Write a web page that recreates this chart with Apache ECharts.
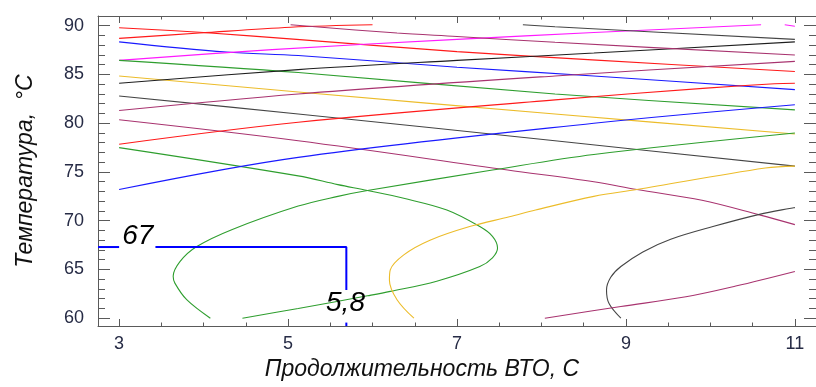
<!DOCTYPE html>
<html>
<head>
<meta charset="utf-8">
<title>Contours</title>
<script src="https://cdn.jsdelivr.net/npm/echarts@6.0.0/dist/echarts.min.js"></script>
<style>
  html, body { margin: 0; padding: 0; background: #fff; }
  #chart { width: 816px; height: 387px; }
</style>
</head>
<body>
<div id="chart"></div>
<script>
// axis ranges and ticks
const X_MIN = 2.75, X_MAX = 11.25
const Y_MIN = 59.2, Y_MAX = 91
const xMajor = [3, 5, 7, 9, 11]
const xMinor = [3, 3.5, 4, 4.5, 5, 5.5, 6, 6.5, 7, 7.5, 8, 8.5, 9, 9.5, 10, 10.5, 11]
const yMajor = [60, 65, 70, 75, 80, 85, 90]
const yMinor = [60, 61, 62, 63, 64, 65, 66, 67, 68, 69, 70, 71, 72, 73, 74, 75, 76, 77, 78, 79, 80, 81, 82, 83, 84, 85, 86, 87, 88, 89, 90]

// contour lines, [duration, temperature]
const redTopFall = [[3, 89.8], [4, 89.3], [5.1, 88.6], [7, 87.35], [8.6, 86.5], [11, 85.3]]
const redTopRise = [[3, 88.7], [3.95, 89.25], [5.03, 89.85], [6.0, 90.1]]
const blueFall = [[3, 88.35], [4.27, 87.3], [5.12, 86.95], [7, 85.75], [8.62, 84.85], [11, 83.45]]
const magentaRise = [[3, 86.45], [4.81, 87.55], [7, 88.6], [8.62, 89.3], [10.6, 90.1]]
const magentaEdge = [[10.88, 90.1], [11, 89.95]]
const greenFall = [[3, 86.45], [5.12, 85.2], [8.16, 83.0], [11, 81.37]]
const yellowFall = [[3, 84.85], [5.12, 83.2], [8.16, 80.95], [11, 78.9]]
const blackRise = [[3, 84.1], [5.12, 85.5], [7, 86.45], [8.62, 87.2], [11, 88.35]]
const grayFall = [[3, 82.8], [5.12, 80.95], [8.16, 78.2], [11, 75.6]]
const mauveRise = [[3, 81.3], [5.12, 83.0], [8.16, 84.85], [11, 86.35]]
const mauveFall = [[3, 80.35], [5.12, 78.2], [7.6, 75.2], [8.62, 74.0], [9.13, 73.2], [9.9, 72.1], [10.58, 70.6], [11, 69.6]]
const redRise = [[3, 77.85], [5.12, 80.1], [8.16, 82.4], [9.95, 83.6], [10.76, 84.05], [11, 84.1]]
const greenLoop = [[3, 77.5], [5.12, 74.6], [5.59, 73.7], [5.94, 73.1], [6.37, 72.3], [6.88, 71.1], [7.27, 69.4], [7.42, 68.4], [7.48, 67.2], [7.42, 66.2], [7.27, 65.3], [6.76, 63.8], [6.21, 62.75], [5.94, 62.3], [5.12, 61.0], [4.46, 60]]
const blueRise = [[3, 73.2], [5.12, 76.5], [8.62, 80.0], [11, 81.9]]
const greenArc = [[4.08, 60], [3.8, 61.9], [3.66, 63.6], [3.64, 64.3], [3.72, 65.8], [3.91, 67.3], [4.34, 69.1], [5.12, 71.5], [5.59, 72.5], [5.94, 73.1], [7.42, 75.2], [8.62, 76.8], [11, 79.0]]
const yellowArc = [[6.49, 60], [6.29, 61.9], [6.2, 63.9], [6.21, 64.95], [6.37, 66.5], [6.68, 68.0], [7.15, 69.4], [7.62, 70.4], [7.93, 71.1], [8.62, 72.5], [9.13, 73.2], [10.65, 75.4], [11, 75.6]]
const blackArc = [[8.94, 60], [8.8, 61.5], [8.77, 62.9], [8.82, 64.2], [8.94, 65.3], [9.2, 66.8], [9.53, 68.1], [10.03, 69.4], [10.58, 70.65], [11, 71.35]]
const mauveLow = [[8.04, 60], [8.94, 61.2], [9.71, 62.2], [10.3, 63.3], [11, 64.8]]
const mauveTop = [[5.03, 90.1], [6.29, 89.25], [7, 88.9], [8.16, 88.3], [11, 87.0]]
const grayTop = [[7.78, 90.1], [8.16, 89.9], [11, 88.6]]

// optimum read-off
const optX = 5.69
const optY = 67.3
const optXLabel = '5,8'
const optYLabel = '67'

const RED = '#ff1a1a', BLUE = '#1a1aff', MAGENTA = '#ff1aff', GREEN = '#2e9e2e'
const YELLOW = '#ecbc2a', BLACK = '#1e1e1e', GRAY = '#454545', MAUVE = '#a8336f'

const contours = [
  [redTopFall, RED], [redTopRise, RED], [blueFall, BLUE], [magentaRise, MAGENTA],
  [magentaEdge, MAGENTA], [greenFall, GREEN], [yellowFall, YELLOW], [blackRise, BLACK],
  [grayFall, GRAY], [mauveRise, MAUVE], [mauveFall, MAUVE], [redRise, RED],
  [greenLoop, GREEN], [blueRise, BLUE], [greenArc, GREEN], [yellowArc, YELLOW],
  [blackArc, GRAY], [mauveLow, MAUVE], [mauveTop, MAUVE], [grayTop, GRAY]
]

const AXIS_COLOR = '#5a5a5a'
const LABEL_FONT = { fontFamily: 'Liberation Sans', fontSize: 18, color: '#262b45' }
const NAME_FONT = { fontFamily: 'Liberation Sans', fontStyle: 'italic', fontSize: 23, color: '#111' }

const chart = echarts.init(document.getElementById('chart'), null, { renderer: 'canvas' })

const xAxisBase = {
  type: 'value', min: X_MIN, max: X_MAX,
  splitLine: { show: false },
  axisLine: { show: true, onZero: false, lineStyle: { color: AXIS_COLOR, width: 1 } }
}
const yAxisBase = {
  type: 'value', min: Y_MIN, max: Y_MAX,
  splitLine: { show: false },
  axisLine: { show: true, onZero: false, lineStyle: { color: AXIS_COLOR, width: 1 } }
}

const tickStyle = { color: AXIS_COLOR, width: 1 }

const xAxes = [
  {
    ...xAxisBase, position: 'bottom',
    axisTick: { show: true, inside: true, length: 7, customValues: xMajor, lineStyle: tickStyle },
    axisLabel: { ...LABEL_FONT, customValues: xMajor, margin: 9, showMinLabel: true, showMaxLabel: true },
    name: 'Продолжительность ВТО, С', nameLocation: 'middle', nameGap: 30,
    nameTextStyle: { ...NAME_FONT, padding: [0, 70, 0, 0] }
  },
  {
    ...xAxisBase, position: 'bottom',
    axisLine: { show: false, onZero: false },
    axisTick: { show: true, inside: true, length: 3.5, customValues: xMinor, lineStyle: tickStyle },
    axisLabel: { show: false }
  },
  {
    ...xAxisBase, position: 'top',
    axisTick: { show: true, inside: true, length: 7, customValues: xMajor, lineStyle: tickStyle },
    axisLabel: { show: false }
  },
  {
    ...xAxisBase, position: 'top',
    axisLine: { show: false, onZero: false },
    axisTick: { show: true, inside: true, length: 3.5, customValues: xMinor, lineStyle: tickStyle },
    axisLabel: { show: false }
  }
]

const yAxes = [
  {
    ...yAxisBase, position: 'left',
    axisTick: { show: true, inside: true, length: 12, customValues: yMajor, lineStyle: tickStyle },
    axisLabel: { ...LABEL_FONT, customValues: yMajor, margin: 14, showMinLabel: true, showMaxLabel: true },
    name: 'Температура,  °С', nameLocation: 'middle', nameGap: 61, nameRotate: 90,
    nameTextStyle: { ...NAME_FONT }
  },
  {
    ...yAxisBase, position: 'left',
    axisLine: { show: false, onZero: false },
    axisTick: { show: true, inside: true, length: 7, customValues: yMinor, lineStyle: tickStyle },
    axisLabel: { show: false }
  },
  {
    ...yAxisBase, position: 'right',
    axisTick: { show: true, inside: true, length: 12, customValues: yMajor, lineStyle: tickStyle },
    axisLabel: { show: false }
  },
  {
    ...yAxisBase, position: 'right',
    axisLine: { show: false, onZero: false },
    axisTick: { show: true, inside: true, length: 7, customValues: yMinor, lineStyle: tickStyle },
    axisLabel: { show: false }
  }
]

const series = contours.map(([pts, color]) => ({
  type: 'line',
  data: pts,
  smooth: 0.35,
  showSymbol: false,
  symbol: 'none',
  silent: true,
  lineStyle: { color: color, width: 1.1 },
  z: 2
}))

// blue read-off lines, with gaps left for the numbers
const annoStyle = { color: '#0000ff', width: 2 }
const hGapFrom = 3.0, hGapTo = 3.43
const vGapFrom = 62.9, vGapTo = 59.55
series.push(
  { type: 'line', data: [[X_MIN, optY], [hGapFrom, optY]], symbol: 'none', lineStyle: annoStyle, z: 3, silent: true },
  { type: 'line', data: [[hGapTo, optY], [optX, optY], [optX, vGapFrom]], symbol: 'none', lineStyle: annoStyle, z: 3, silent: true },
  { type: 'line', data: [[optX, vGapTo], [optX, Y_MIN]], symbol: 'none', lineStyle: annoStyle, z: 3, silent: true },
  {
    type: 'scatter', symbolSize: 0, silent: true, z: 4,
    itemStyle: { opacity: 1 },
    data: [
      { value: [3.22, 68.4], name: optYLabel },
      { value: [5.68, 61.55], name: optXLabel }
    ],
    label: {
      show: true, position: 'inside', formatter: p => p.name,
      fontFamily: 'Liberation Sans', fontStyle: 'italic', fontSize: 28, color: '#000', opacity: 1
    }
  }
)

chart.setOption({
  animation: false,
  backgroundColor: '#ffffff',
  grid: { left: 98, right: -9, top: 16, bottom: 61, containLabel: false },
  xAxis: xAxes,
  yAxis: yAxes,
  series: series
})
</script>
</body>
</html>
